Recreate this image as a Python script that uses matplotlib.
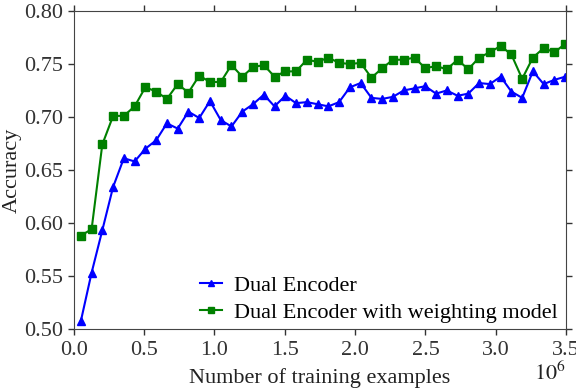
import numpy as np
import matplotlib
matplotlib.use('Agg')
import matplotlib.pyplot as plt

plt.rcParams['font.family'] = ['Liberation Serif', 'DejaVu Serif']
plt.rcParams['mathtext.fontset'] = 'stix'

# training examples, in millions
x = [0.050, 0.127, 0.203, 0.280, 0.356, 0.433, 0.509, 0.586, 0.662, 0.739,
     0.815, 0.892, 0.968, 1.045, 1.121, 1.198, 1.274, 1.351, 1.427, 1.504,
     1.580, 1.657, 1.733, 1.810, 1.886, 1.963, 2.039, 2.116, 2.192, 2.269,
     2.345, 2.422, 2.498, 2.575, 2.651, 2.728, 2.804, 2.881, 2.957, 3.034,
     3.110, 3.187, 3.263, 3.340, 3.416, 3.493]

# Dual Encoder
dual = [0.507, 0.553, 0.593, 0.634, 0.661, 0.658, 0.670, 0.678, 0.694, 0.689,
        0.705, 0.699, 0.715, 0.697, 0.691, 0.705, 0.712, 0.721, 0.710, 0.720,
        0.713, 0.714, 0.712, 0.710, 0.714, 0.728, 0.732, 0.718, 0.717, 0.719,
        0.725, 0.727, 0.729, 0.722, 0.725, 0.720, 0.722, 0.732, 0.731, 0.738,
        0.724, 0.718, 0.743, 0.731, 0.735, 0.738]

# Dual Encoder with weighting model
weighted = [0.588, 0.594, 0.674, 0.701, 0.701, 0.710, 0.728, 0.724, 0.717, 0.731,
            0.723, 0.739, 0.733, 0.733, 0.749, 0.738, 0.747, 0.749, 0.738, 0.743,
            0.743, 0.754, 0.752, 0.756, 0.751, 0.750, 0.751, 0.737, 0.746, 0.754,
            0.754, 0.756, 0.746, 0.748, 0.745, 0.754, 0.745, 0.756, 0.761, 0.767,
            0.759, 0.736, 0.756, 0.765, 0.761, 0.769]

fig = plt.figure(figsize=(5.76, 3.92), dpi=100)
ax = fig.add_axes([0.128, 0.161, 0.855, 0.811])

ax.plot(x, dual, color='blue', marker='^', markersize=6, linewidth=1.5,
        label='Dual Encoder')
ax.plot(x, weighted, color='green', marker='s', markersize=5.5, linewidth=1.5,
        label='Dual Encoder with weighting model')

ax.set_xlim(0, 3.5)
ax.set_ylim(0.5, 0.8)
ax.set_xticks(np.arange(0, 3.51, 0.5))
ax.set_xticklabels(['%.1f' % t for t in np.arange(0, 3.51, 0.5)])
ax.set_yticks(np.arange(0.5, 0.801, 0.05))
ax.set_yticklabels(['%.2f' % t for t in np.arange(0.5, 0.801, 0.05)])
ax.tick_params(direction='out', top=True, right=True, length=4.5, width=1,
               labelsize=16, pad=3, colors='#333333')
ax.tick_params(axis='x', pad=4)
for s in ax.spines.values():
    s.set_color('#444444')

ax.set_xlabel('Number of training examples', fontsize=16, labelpad=6,
              color='#222222')
ax.set_ylabel('Accuracy', fontsize=16, labelpad=2, color='#222222')
ax.text(1.0, -0.105, r'$10^6$', transform=ax.transAxes, ha='right', va='top',
        fontsize=16, color='#222222')

ax.legend(loc='lower right', bbox_to_anchor=(1.0, -0.01), frameon=False,
          fontsize=16, handlelength=1.0, handletextpad=0.5, labelspacing=0.3,
          borderaxespad=0.0, markerscale=0.7)

fig.savefig('out.png', dpi=100)
